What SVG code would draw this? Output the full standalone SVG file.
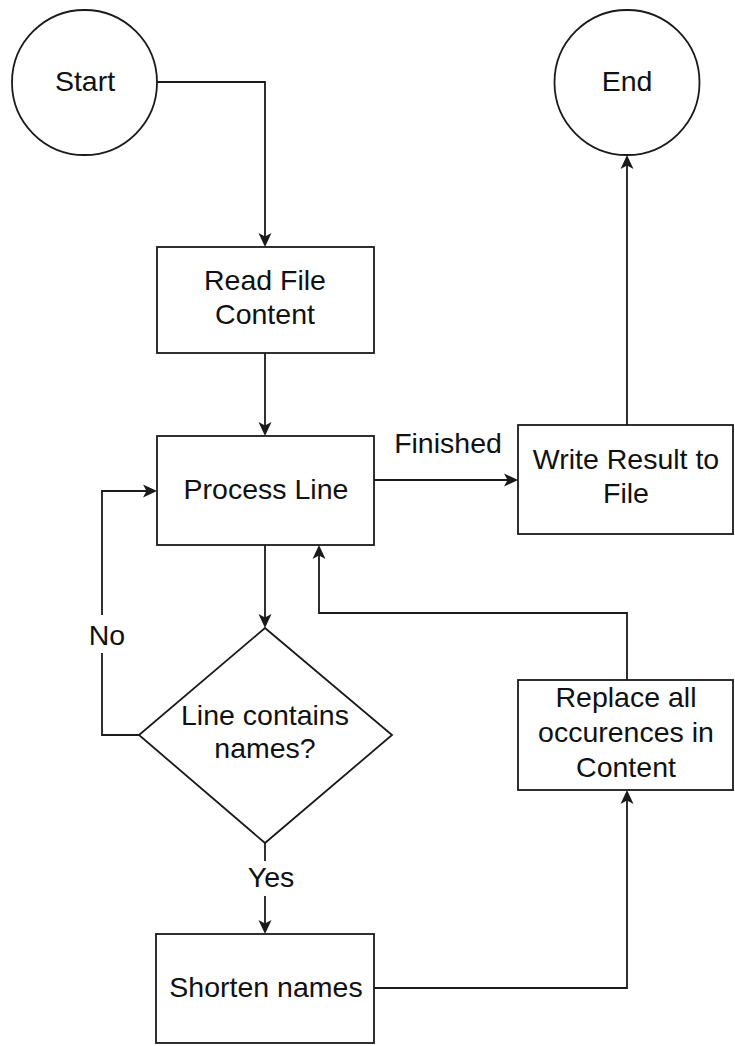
<svg xmlns="http://www.w3.org/2000/svg" width="735" height="1046" viewBox="0 0 735 1046">
  <style>
    .shape { fill: #ffffff; stroke: #1a1a1a; stroke-width: 1.8; }
    .edge { fill: none; stroke: #1a1a1a; stroke-width: 1.8; marker-end: url(#arrow); }
    .edge-plain { fill: none; stroke: #1a1a1a; stroke-width: 1.8; }
    .label { font-family: "Liberation Sans", Arial, sans-serif; font-size: 28.5px; fill: #111111; text-anchor: middle; }
    .bg { fill: #ffffff; stroke: none; }
  </style>
  <defs>
    <marker id="arrow" markerUnits="userSpaceOnUse" viewBox="0 0 14 14" markerWidth="14" markerHeight="14" refX="10" refY="7" orient="auto">
      <path d="M0,0.5 L14,7 L0,13.5 L3.5,7 Z" fill="#1a1a1a"/>
    </marker>
  </defs>
  <rect width="735" height="1046" fill="#ffffff"/>

  <!-- connectors -->
  <g id="connectors">
    <!-- Start -> Read File Content -->
    <path class="edge" d="M157,82 H265 V243"/>
    <!-- Read File Content -> Process Line -->
    <path class="edge" d="M265,353 V432"/>
    <!-- Process Line -> Write Result (Finished) -->
    <path class="edge" d="M374,480 H514"/>
    <text class="label" x="448" y="453">Finished</text>
    <!-- Write Result -> End -->
    <path class="edge" d="M627,425 V159"/>
    <!-- Process Line -> decision -->
    <path class="edge" d="M265,545 V624"/>
    <!-- decision -> Process Line (No) -->
    <path class="edge" d="M139,735 H102 V491 H153"/>
    <rect class="bg" x="92" y="615" width="30" height="38"/>
    <text class="label" x="107" y="645">No</text>
    <!-- decision -> Shorten names (Yes) -->
    <path class="edge" d="M265,843 V930"/>
    <rect class="bg" x="246" y="861" width="50" height="35"/>
    <text class="label" x="271" y="887">Yes</text>
    <!-- Shorten names -> Replace -->
    <path class="edge" d="M374,988 H627 V794"/>
    <!-- Replace -> Process Line -->
    <path class="edge" d="M627,680 V613 H319 V549"/>
  </g>

  <g id="start">
    <circle class="shape" cx="84.5" cy="82.5" r="72.5"/>
    <text class="label" x="85" y="91">Start</text>
  </g>

  <g id="end">
    <circle class="shape" cx="627" cy="82.5" r="72.5"/>
    <text class="label" x="627" y="91">End</text>
  </g>

  <g id="read-file">
    <rect class="shape" x="157" y="247" width="217" height="106"/>
    <text class="label" x="265" y="290">Read File</text>
    <text class="label" x="265" y="324">Content</text>
  </g>

  <g id="process-line">
    <rect class="shape" x="157" y="436" width="217" height="109"/>
    <text class="label" x="266" y="499">Process Line</text>
  </g>

  <g id="write-result">
    <rect class="shape" x="518" y="425" width="215" height="109"/>
    <text class="label" x="626" y="469">Write Result to</text>
    <text class="label" x="626" y="503">File</text>
  </g>

  <g id="decision">
    <polygon class="shape" points="265,628 392,735 265,843 139,735"/>
    <text class="label" x="265" y="725">Line contains</text>
    <text class="label" x="265" y="758">names?</text>
  </g>

  <g id="shorten-names">
    <rect class="shape" x="156" y="934" width="218" height="109"/>
    <text class="label" x="266" y="997">Shorten names</text>
  </g>

  <g id="replace">
    <rect class="shape" x="518" y="680" width="215" height="110"/>
    <text class="label" x="626" y="707">Replace all</text>
    <text class="label" x="626" y="742">occurences in</text>
    <text class="label" x="626" y="777">Content</text>
  </g>
</svg>
